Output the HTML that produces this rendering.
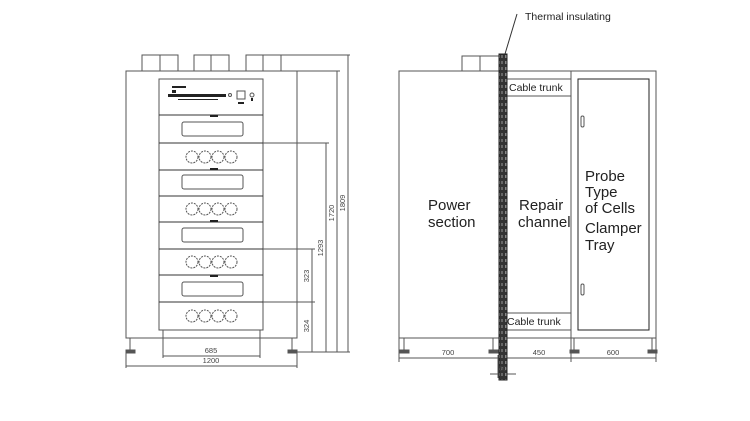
<!DOCTYPE html>
<html><head><meta charset="utf-8"><style>body{margin:0;background:#fff}svg{display:block}</style></head><body>
<svg width="750" height="421" viewBox="0 0 750 421" xmlns="http://www.w3.org/2000/svg" font-family="Liberation Sans, sans-serif">
<defs><pattern id="brick" width="8" height="6" patternUnits="userSpaceOnUse"><rect width="8" height="6" fill="#333"/><rect x="1" y="1" width="3" height="3" fill="#888"/><rect x="5" y="1" width="2" height="3" fill="#666"/></pattern></defs>
<g fill="none" stroke="#555" stroke-width="1">
<!-- left cabinet -->
<rect x="142" y="55" width="36" height="16"/><line x1="160" y1="55" x2="160" y2="71"/>
<rect x="194" y="55" width="35" height="16"/><line x1="211" y1="55" x2="211" y2="71"/>
<rect x="246" y="55" width="35" height="16"/><line x1="263" y1="55" x2="263" y2="71"/>
<rect x="126" y="71" width="171" height="267"/>
<rect x="159" y="79" width="104" height="251"/>
<g stroke="#333">
<line x1="159" y1="115" x2="263" y2="115"/><line x1="159" y1="143" x2="263" y2="143"/><line x1="159" y1="170" x2="263" y2="170"/><line x1="159" y1="196" x2="263" y2="196"/><line x1="159" y1="222" x2="263" y2="222"/><line x1="159" y1="249" x2="263" y2="249"/><line x1="159" y1="275" x2="263" y2="275"/><line x1="159" y1="302" x2="263" y2="302"/>
</g>
<rect x="182" y="122" width="61" height="14" rx="2"/><rect x="182" y="175" width="61" height="14" rx="2"/><rect x="182" y="228" width="61" height="14" rx="2"/><rect x="182" y="282" width="61" height="14" rx="2"/>
<g stroke-dasharray="2,1">
<circle cx="192" cy="157" r="6"/><circle cx="205" cy="157" r="6"/><circle cx="218" cy="157" r="6"/><circle cx="231" cy="157" r="6"/>
<circle cx="192" cy="209" r="6"/><circle cx="205" cy="209" r="6"/><circle cx="218" cy="209" r="6"/><circle cx="231" cy="209" r="6"/>
<circle cx="192" cy="262" r="6"/><circle cx="205" cy="262" r="6"/><circle cx="218" cy="262" r="6"/><circle cx="231" cy="262" r="6"/>
<circle cx="192" cy="316" r="6"/><circle cx="205" cy="316" r="6"/><circle cx="218" cy="316" r="6"/><circle cx="231" cy="316" r="6"/>
</g>
<rect x="237" y="91" width="8" height="8"/><circle cx="252" cy="95" r="2"/><circle cx="230" cy="95" r="1.5"/>
<line x1="130" y1="338" x2="130" y2="350"/><rect x="126" y="350" width="9" height="3" fill="#555"/>
<line x1="292" y1="338" x2="292" y2="350"/><rect x="288" y="350" width="9" height="3" fill="#555"/>
<!-- dims left -->
<line x1="281" y1="55" x2="350" y2="55"/><line x1="297" y1="71" x2="340" y2="71"/>
<line x1="263" y1="143" x2="329" y2="143"/><line x1="263" y1="249" x2="315" y2="249"/><line x1="263" y1="302" x2="315" y2="302"/>
<line x1="297" y1="352" x2="350" y2="352"/>
<line x1="348" y1="55" x2="348" y2="352"/><line x1="337" y1="71" x2="337" y2="352"/><line x1="326" y1="143" x2="326" y2="352"/><line x1="312" y1="249" x2="312" y2="352"/>
<line x1="163" y1="330" x2="163" y2="358"/><line x1="260" y1="330" x2="260" y2="358"/>
<line x1="163" y1="356" x2="260" y2="356"/><line x1="126" y1="352" x2="126" y2="368"/><line x1="297" y1="352" x2="297" y2="368"/>
<line x1="126" y1="366" x2="297" y2="366"/>
<!-- right cabinet -->
<rect x="462" y="56" width="38" height="15"/><line x1="480" y1="56" x2="480" y2="71"/>
<rect x="399" y="71" width="257" height="267"/>
<line x1="571" y1="71" x2="571" y2="338"/>
<rect x="507" y="79" width="64" height="17"/><rect x="507" y="313" width="64" height="17"/>
<rect x="578" y="79" width="71" height="251" stroke="#222"/>
<rect x="581" y="116" width="3" height="11" rx="1.5"/><rect x="581" y="284" width="3" height="11" rx="1.5"/>
<line x1="404" y1="338" x2="404" y2="350"/><rect x="400" y="350" width="9" height="3" fill="#555"/>
<line x1="493" y1="338" x2="493" y2="350"/><rect x="489" y="350" width="9" height="3" fill="#555"/>
<line x1="574" y1="338" x2="574" y2="350"/><rect x="570" y="350" width="9" height="3" fill="#555"/>
<line x1="652" y1="338" x2="652" y2="350"/><rect x="648" y="350" width="9" height="3" fill="#555"/>
<line x1="399" y1="338" x2="399" y2="362"/><line x1="656" y1="338" x2="656" y2="362"/><line x1="571" y1="338" x2="571" y2="362"/>
<line x1="399" y1="358" x2="498" y2="358"/><line x1="507" y1="358" x2="656" y2="358"/>
<line x1="498" y1="355" x2="498" y2="378"/><line x1="507" y1="355" x2="507" y2="378"/>
<line x1="490" y1="374" x2="516" y2="374"/>
<line x1="517" y1="14" x2="505" y2="54" stroke="#333"/>
</g>
<rect x="499" y="54" width="8" height="326" fill="url(#brick)" stroke="#222"/>
<g fill="#222"><rect x="172" y="86" width="14" height="2"/><rect x="172" y="90" width="4" height="3"/><rect x="168" y="94" width="58" height="3"/><rect x="178" y="99" width="40" height="1"/><rect x="238" y="102" width="6" height="2"/><rect x="251" y="98" width="2" height="3"/>
<rect x="210" y="115" width="8" height="2"/><rect x="210" y="168" width="8" height="2"/><rect x="210" y="220" width="8" height="2"/><rect x="210" y="275" width="8" height="2"/></g>
<g fill="#444" font-size="7.5" text-anchor="middle">
<text x="211" y="353">685</text><text x="211" y="363">1200</text>
<text x="448" y="355">700</text><text x="539" y="355">450</text><text x="613" y="355">600</text><text x="503" y="371">50</text>
<text transform="translate(345 203) rotate(-90)">1809</text>
<text transform="translate(334 213) rotate(-90)">1720</text>
<text transform="translate(323 248) rotate(-90)">1293</text>
<text transform="translate(309 276) rotate(-90)">323</text>
<text transform="translate(309 326) rotate(-90)">324</text>
</g>
<g fill="#222">
<text x="525" y="20" font-size="10.5">Thermal insulating</text>
<text x="509" y="91" font-size="10.5">Cable trunk</text><text x="507" y="325" font-size="10.5">Cable trunk</text>
<g font-size="15"><text x="428" y="210">Power</text><text x="428" y="227">section</text>
<text x="519" y="210">Repair</text><text x="518" y="227">channel</text>
<text x="585" y="181">Probe</text><text x="585" y="197">Type</text><text x="585" y="213">of Cells</text><text x="585" y="233">Clamper</text><text x="585" y="250">Tray</text></g>
</g>
</svg>
</body></html>
